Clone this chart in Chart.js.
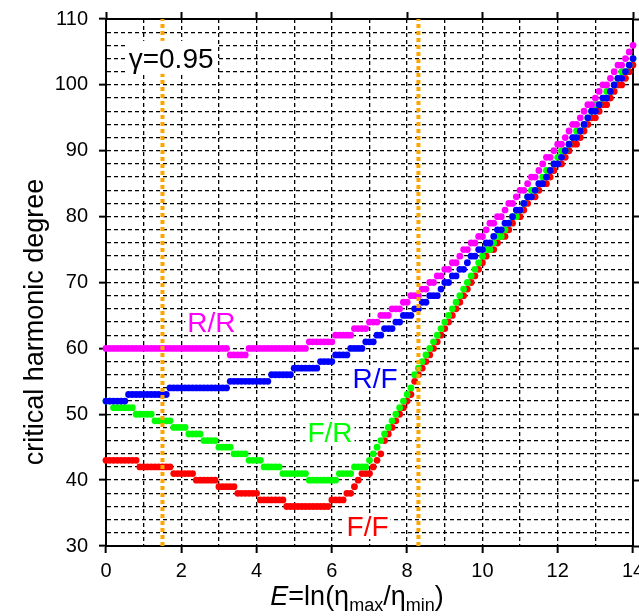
<!DOCTYPE html>
<html lang="en">
  <head>
    <meta charset="UTF-8" />
    <title>critical harmonic degree</title>
    <script src="https://cdn.jsdelivr.net/npm/chart.js"></script>
    <style>
      body { margin: 0; background: #fff; }
      #box { width: 639px; height: 616px; }
    </style>
  </head>
  <body>
    <div id="box"><canvas id="degChart"></canvas></div>

    <script>
      // viscosity contrast E = ln(eta_max / eta_min)
      const E = [
        0, 0.1, 0.2, 0.3, 0.4, 0.5, 0.6, 0.7, 0.8, 0.9,
        1, 1.1, 1.2, 1.3, 1.4, 1.5, 1.6, 1.7, 1.8, 1.9,
        2, 2.1, 2.2, 2.3, 2.4, 2.5, 2.6, 2.7, 2.8, 2.9,
        3, 3.1, 3.2, 3.3, 3.4, 3.5, 3.6, 3.7, 3.8, 3.9,
        4, 4.1, 4.2, 4.3, 4.4, 4.5, 4.6, 4.7, 4.8, 4.9,
        5, 5.1, 5.2, 5.3, 5.4, 5.5, 5.6, 5.7, 5.8, 5.9,
        6, 6.1, 6.2, 6.3, 6.4, 6.5, 6.6, 6.7, 6.8, 6.9,
        7, 7.1, 7.2, 7.3, 7.4, 7.5, 7.6, 7.7, 7.8, 7.9,
        8, 8.1, 8.2, 8.3, 8.4, 8.5, 8.6, 8.7, 8.8, 8.9,
        9, 9.1, 9.2, 9.3, 9.4, 9.5, 9.6, 9.7, 9.8, 9.9,
        10, 10.1, 10.2, 10.3, 10.4, 10.5, 10.6, 10.7, 10.8, 10.9,
        11, 11.1, 11.2, 11.3, 11.4, 11.5, 11.6, 11.7, 11.8, 11.9,
        12, 12.1, 12.2, 12.3, 12.4, 12.5, 12.6, 12.7, 12.8, 12.9,
        13, 13.1, 13.2, 13.3, 13.4, 13.5, 13.6, 13.7, 13.8, 13.9,
        14
      ];

      // critical degree for each pair of boundary conditions
      const degRR = [
        60, 60, 60, 60, 60, 60, 60, 60, 60, 60,
        60, 60, 60, 60, 60, 60, 60, 60, 60, 60,
        60, 60, 60, 60, 60, 60, 60, 60, 60, 60,
        60, 60, 60, 59, 59, 59, 59, 59, 60, 60,
        60, 60, 60, 60, 60, 60, 60, 60, 60, 60,
        60, 60, 60, 60, 61, 61, 61, 61, 61, 61,
        61, 62, 62, 62, 62, 62, 63, 63, 63, 63,
        64, 64, 64, 65, 65, 65, 66, 66, 66, 67,
        67, 68, 68, 68, 69, 69, 70, 70, 71, 71,
        72, 72, 73, 73, 74, 75, 75, 76, 76, 77,
        77, 78, 79, 79, 80, 80, 81, 82, 82, 83,
        84, 84, 85, 86, 86, 87, 88, 89, 89, 90,
        91, 91, 92, 93, 94, 94, 95, 96, 97, 97,
        98, 99, 100, 100, 101, 102, 103, 103, 104, 105,
        106
      ];
      const degRF = [
        52, 52, 52, 52, 52, 52, 53, 53, 53, 53,
        53, 53, 53, 53, 53, 53, 53, 54, 54, 54,
        54, 54, 54, 54, 54, 54, 54, 54, 54, 54,
        54, 54, 54, 55, 55, 55, 55, 55, 55, 55,
        55, 55, 55, 55, 56, 56, 56, 56, 56, 56,
        57, 57, 57, 57, 57, 57, 57, 58, 58, 58,
        58, 59, 59, 59, 59, 60, 60, 60, 60, 61,
        61, 61, 62, 62, 63, 63, 63, 64, 64, 65,
        65, 65, 66, 66, 67, 67, 68, 68, 68, 69,
        70, 70, 71, 71, 72, 72, 73, 74, 74, 75,
        75, 76, 76, 77, 78, 78, 79, 79, 80, 81,
        81, 82, 83, 83, 84, 85, 85, 86, 87, 88,
        88, 89, 90, 91, 92, 92, 93, 94, 95, 96,
        96, 97, 98, 98, 99, 100, 101, 101, 102, 103,
        104
      ];
      const degFR = [
        52, 52, 51, 51, 51, 51, 51, 51, 50, 50,
        50, 50, 50, 49, 49, 49, 49, 49, 48, 48,
        48, 48, 47, 47, 47, 47, 46, 46, 46, 46,
        45, 45, 45, 45, 44, 44, 44, 44, 43, 43,
        43, 43, 42, 42, 42, 42, 42, 41, 41, 41,
        41, 41, 41, 41, 40, 40, 40, 40, 40, 40,
        40, 40, 41, 41, 41, 41, 42, 42, 42, 42,
        43, 44, 45, 46, 47, 48, 49, 50, 51, 52,
        53, 54, 56, 57, 58, 59, 60, 61, 62, 63,
        64, 65, 66, 67, 68, 69, 70, 71, 72, 73,
        74, 75, 75, 76, 77, 77, 78, 79, 80, 80,
        81, 82, 83, 84, 84, 85, 86, 87, 87, 88,
        89, 90, 90, 91, 92, 93, 93, 94, 95, 96,
        97, 97, 98, 99, 99, 100, 101, 102, 102, 103,
        104
      ];
      const degFF = [
        43, 43, 43, 43, 43, 43, 43, 43, 43, 42,
        42, 42, 42, 42, 42, 42, 42, 42, 41, 41,
        41, 41, 41, 41, 40, 40, 40, 40, 40, 40,
        39, 39, 39, 39, 39, 38, 38, 38, 38, 38,
        38, 37, 37, 37, 37, 37, 37, 37, 36, 36,
        36, 36, 36, 36, 36, 36, 36, 36, 36, 36,
        37, 37, 37, 37, 38, 38, 39, 40, 41, 41,
        41, 42, 43, 44, 46, 47, 48, 49, 50, 51,
        52, 53, 55, 56, 57, 58, 59, 60, 61, 62,
        63, 64, 65, 66, 67, 68, 69, 70, 71, 72,
        73, 74, 75, 75, 76, 77, 77, 78, 79, 80,
        80, 81, 82, 83, 83, 84, 85, 85, 86, 87,
        88, 88, 89, 90, 91, 91, 92, 93, 94, 95,
        95, 96, 97, 97, 98, 99, 100, 100, 101, 102,
        103
      ];

      const seriesNames = ["R/R", "R/F", "F/R", "F/F"];
      const xTicks = [0, 2, 4, 6, 8, 10, 12, 14];
      const yTicks = [30, 40, 50, 60, 70, 80, 90, 100, 110];
      const markerE = [1.5, 8.3];
      const gammaText = "γ=0.95";

      const colors = ["#ff00ff", "#0000ff", "#00ff00", "#ff0000"];
      const FONT = '"Liberation Sans", Arial, sans-serif';

      // where the curve names and the gamma note sit, in data units
      const notes = [
        { text: seriesNames[0], e: 2.8, d: 64.0, color: colors[0] },
        { text: seriesNames[1], e: 7.15, d: 55.5, color: colors[1] },
        { text: seriesNames[2], e: 5.95, d: 47.3, color: colors[2] },
        { text: seriesNames[3], e: 6.95, d: 33.0, color: colors[3] },
      ];

      const pts = (ys) => E.map((e, i) => ({ x: e, y: ys[i] }));

      const markerSets = markerE.map((e) => ({
        type: "line",
        data: [{ x: e, y: 30 }, { x: e, y: 110 }],
        borderColor: "#ffa500",
        borderWidth: 4,
        borderDash: [4, 3],
        pointRadius: 0,
        clip: false,
      }));

      const curveSets = [degRR, degRF, degFR, degFF].map((ys, k) => ({
        label: seriesNames[k],
        data: pts(ys),
        backgroundColor: colors[k],
        pointRadius: 3.4,
        pointBorderWidth: 0,
        showLine: false,
        clip: false,
      }));

      const majorX = (c) => c.tick && xTicks.includes(c.tick.value);
      const majorY = (c) => c.tick && yTicks.includes(c.tick.value);

      const textPlugin = {
        id: "plotText",
        afterDatasetsDraw(chart) {
          const { ctx, scales } = chart;
          const sx = scales.x, sy = scales.y;
          ctx.save();
          // curve names, each on a white patch
          ctx.font = "28px " + FONT;
          ctx.textAlign = "center";
          ctx.textBaseline = "alphabetic";
          for (const n of notes) {
            const px = sx.getPixelForValue(n.e);
            const py = sy.getPixelForValue(n.d);
            const w = ctx.measureText(n.text).width;
            const cap = 20;
            ctx.fillStyle = "#fff";
            ctx.fillRect(px - w / 2 - 2, py - cap / 2 - 3, w + 4, cap + 6);
            ctx.fillStyle = n.color;
            ctx.fillText(n.text, px, py + cap / 2);
          }
          // gamma note
          ctx.font = "28px " + FONT;
          const gx = sx.getPixelForValue(1.73);
          const gy = sy.getPixelForValue(104.1);
          const gw = ctx.measureText(gammaText).width;
          ctx.fillStyle = "#fff";
          ctx.fillRect(gx - gw / 2 - 3, gy - 17, gw + 6, 33);
          ctx.fillStyle = "#000";
          ctx.fillText(gammaText, gx, gy + 10);
          ctx.restore();
        },
        afterDraw(chart) {
          const { ctx } = chart;
          ctx.save();
          ctx.fillStyle = "#000";
          // y title
          ctx.translate(36, 322);
          ctx.rotate(-Math.PI / 2);
          ctx.font = "27px " + FONT;
          ctx.textAlign = "center";
          ctx.textBaseline = "middle";
          ctx.fillText("critical harmonic degree", 0, 0);
          ctx.setTransform(1, 0, 0, 1, 0, 0);

          // x title: E=ln(eta_max/eta_min)
          const big = "27px " + FONT, small = "18px " + FONT;
          const parts = [
            ["E", "italic " + big, 0],
            ["=ln(η", big, 0],
            ["max", small, 6],
            ["/η", big, 0],
            ["min", small, 6],
            [")", big, 0],
          ];
          let total = 0;
          for (const p of parts) { ctx.font = p[1]; total += ctx.measureText(p[0]).width; }
          let cx = 357 - total / 2;
          const base = 605;
          ctx.textAlign = "left";
          ctx.textBaseline = "alphabetic";
          for (const p of parts) {
            ctx.font = p[1];
            ctx.fillText(p[0], cx, base + p[2]);
            cx += ctx.measureText(p[0]).width;
          }
          ctx.restore();
        },
      };

      const ctx = document.getElementById("degChart").getContext("2d");
      new Chart(ctx, {
        type: "scatter",
        data: { datasets: [...markerSets, ...curveSets] },
        options: {
          responsive: true,
          maintainAspectRatio: false,
          animation: false,
          layout: { padding: 0 },
          plugins: { legend: { display: false }, tooltip: { enabled: false } },
          scales: {
            x: {
              type: "linear",
              position: "bottom",
              min: 0,
              max: 14,
              ticks: {
                stepSize: 1,
                autoSkip: false,
                maxRotation: 0,
                padding: 6,
                color: "#000",
                font: { family: FONT, size: 20 },
                callback: (v) => (xTicks.includes(v) ? v : ""),
              },
              grid: {
                color: "#000",
                lineWidth: 1.3,
                tickLength: 7,
                tickWidth: 2,
                tickColor: (c) => (majorX(c) ? "#000" : "rgba(0,0,0,0)"),
              },
              border: { display: true, color: "#000", width: 2, dash: [4, 3] },
              afterFit: (s) => { s.height = 70; s.paddingLeft = 0; s.paddingRight = 0; },
            },
            x2: {
              type: "linear",
              position: "top",
              min: 0,
              max: 14,
              ticks: { stepSize: 1, autoSkip: false, display: false },
              grid: {
                drawOnChartArea: false,
                tickLength: 7,
                tickWidth: 2,
                tickColor: (c) => (majorX(c) ? "#000" : "rgba(0,0,0,0)"),
              },
              border: { color: "#000", width: 2 },
              afterFit: (s) => { s.height = 19; s.paddingLeft = 0; s.paddingRight = 0; },
            },
            y: {
              type: "linear",
              position: "left",
              min: 30,
              max: 110,
              ticks: {
                stepSize: 2,
                autoSkip: false,
                padding: 11,
                color: "#000",
                font: { family: FONT, size: 20 },
                callback: (v) => (yTicks.includes(v) ? v : ""),
              },
              grid: {
                color: "#000",
                lineWidth: 1.3,
                tickLength: 7,
                tickWidth: 2,
                tickColor: (c) => (majorY(c) ? "#000" : "rgba(0,0,0,0)"),
              },
              border: { display: true, color: "#000", width: 2, dash: [4, 3] },
              afterFit: (s) => { s.width = 106; s.paddingTop = 0; s.paddingBottom = 0; },
            },
            y2: {
              type: "linear",
              position: "right",
              min: 30,
              max: 110,
              ticks: { stepSize: 2, autoSkip: false, display: false },
              grid: {
                drawOnChartArea: false,
                tickLength: 7,
                tickWidth: 2,
                tickColor: (c) => (majorY(c) ? "#000" : "rgba(0,0,0,0)"),
              },
              border: { color: "#000", width: 2 },
              afterFit: (s) => { s.width = 6; s.paddingTop = 0; s.paddingBottom = 0; },
            },
          },
        },
        plugins: [textPlugin],
      });
    </script>
  </body>
</html>
